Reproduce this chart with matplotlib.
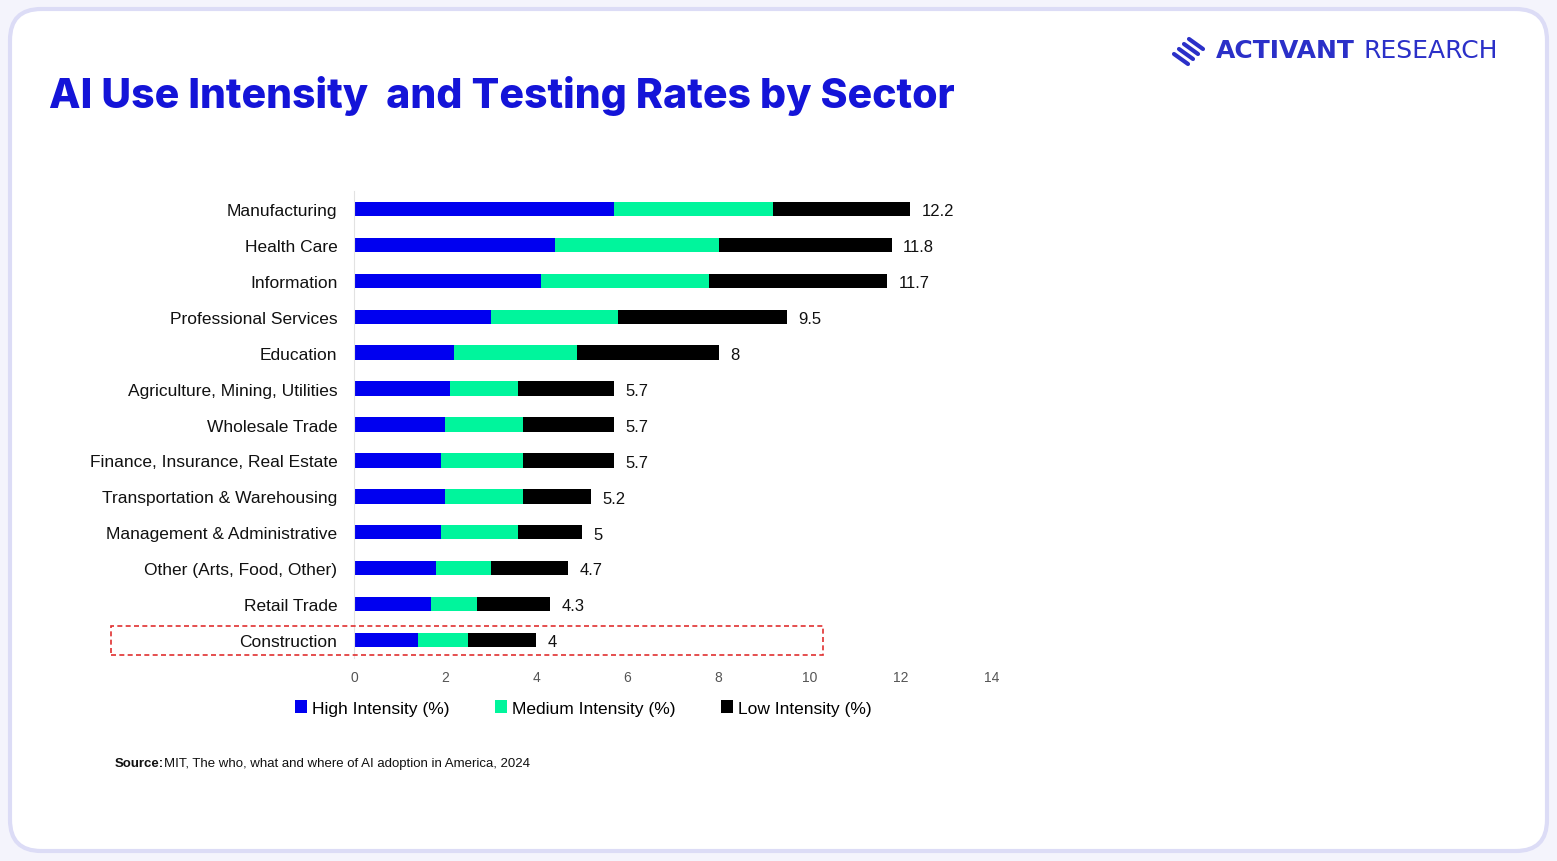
import numpy as np
import matplotlib.pyplot as plt
from matplotlib.patches import FancyBboxPatch, Rectangle
from matplotlib.lines import Line2D

sectors = ['Manufacturing', 'Health Care', 'Information', 'Professional Services',
           'Education', 'Agriculture, Mining, Utilities', 'Wholesale Trade',
           'Finance, Insurance, Real Estate', 'Transportation & Warehousing',
           'Management & Administrative', 'Other (Arts, Food, Other)',
           'Retail Trade', 'Construction']
high = [5.7, 4.4, 4.1, 3.0, 2.2, 2.1, 2.0, 1.9, 2.0, 1.9, 1.8, 1.7, 1.4]
medium = [3.5, 3.6, 3.7, 2.8, 2.7, 1.5, 1.7, 1.8, 1.7, 1.7, 1.2, 1.0, 1.1]
low = [3.0, 3.8, 3.9, 3.7, 3.1, 2.1, 2.0, 2.0, 1.5, 1.4, 1.7, 1.6, 1.5]
totals = [12.2, 11.8, 11.7, 9.5, 8, 5.7, 5.7, 5.7, 5.2, 5, 4.7, 4.3, 4]
series_names = ['High Intensity (%)', 'Medium Intensity (%)', 'Low Intensity (%)']
colors = ['#0000f0', '#00f59c', '#000000']

plt.rcParams['font.family'] = ['Liberation Sans', 'DejaVu Sans']

W, H = 1557, 862
fig = plt.figure(figsize=(W / 100, H / 100), dpi=100)
fig.patch.set_facecolor('#f4f4fc')

# card background
card = FancyBboxPatch((10 / W, 10 / H), 1537 / W, 842 / H,
                      boxstyle='round,pad=0,rounding_size=0.02',
                      transform=fig.transFigure, facecolor='white',
                      edgecolor='#dcdcf6', linewidth=3, mutation_aspect=W / H,
                      zorder=-10)
fig.patches.append(card)

ax = fig.add_axes([354 / W, 1 - 659 / H, 638 / W, 467 / H])
y = np.arange(len(sectors))
left = np.zeros(len(sectors))
for vals, c, name in zip([high, medium, low], colors, series_names):
    ax.barh(y, vals, left=left, height=0.4, color=c, label=name)
    left = left + np.array(vals)

for yi, t in zip(y, totals):
    ax.text(t + 0.25, yi + 0.05, f'{t:g}', va='center', ha='left',
            fontsize=12, color='#111111')

ax.set_xlim(0, 14)
ax.set_ylim(len(sectors) - 0.5, -0.5)
ax.set_xticks(range(0, 15, 2))
ax.set_yticks(y)
ax.set_yticklabels(sectors, fontsize=12.5, color='#111111')
for lab in ax.get_yticklabels():
    lab.set_y(lab.get_position()[1])
ax.tick_params(axis='x', length=0, labelsize=10, labelcolor='#555555', pad=9)
ax.tick_params(axis='y', length=0, pad=12)
for s in ['top', 'right', 'bottom']:
    ax.spines[s].set_visible(False)
ax.spines['left'].set_color('#e2e2e2')
ax.set_facecolor('none')

leg = fig.legend(loc='center', bbox_to_anchor=(583 / W, 1 - 709 / H), ncol=3,
                 frameon=False, fontsize=12.5, handlelength=0.7, handleheight=0.7,
                 handletextpad=0.3, columnspacing=2.6)

# highlight box around Construction
fig.patches.append(Rectangle((111 / W, 1 - 656 / H), 712 / W, 29 / H,
                             transform=fig.transFigure, fill=False,
                             edgecolor='#e03030', linestyle=(0, (3, 2)), linewidth=1.2))

fig.text(49 / W, 1 - 96 / H, 'AI Use Intensity  and Testing Rates by Sector',
         fontsize=29.5, fontweight='heavy', color='#1414d8', va='center', ha='left',
         family='Inter')

# logo
logo_c = '#2b30c8'
for i in range(4):
    cx, cy = 1196 - 5 * i, 45 + 5 * i
    fig.lines.append(Line2D([(cx - 7) / W, (cx + 7) / W],
                            [1 - (cy - 5) / H, 1 - (cy + 5) / H],
                            transform=fig.transFigure, color=logo_c,
                            linewidth=3, solid_capstyle='round'))
fig.text(1216 / W, 1 - 51 / H, 'ACTIVANT', fontsize=18, fontweight='bold',
         color=logo_c, va='center', ha='left', family='DejaVu Sans')
fig.text(1364 / W, 1 - 51 / H, 'RESEARCH', fontsize=18, color=logo_c,
         va='center', ha='left', family='DejaVu Sans')

fig.text(115 / W, 1 - 764 / H, 'Source:', fontsize=9.5, fontweight='bold',
         color='#111111', va='center', ha='left')
fig.text(164 / W, 1 - 764 / H, 'MIT, The who, what and where of AI adoption in America, 2024',
         fontsize=9.5, color='#111111', va='center', ha='left')

fig.savefig('out.png', dpi=100, facecolor=fig.get_facecolor())
